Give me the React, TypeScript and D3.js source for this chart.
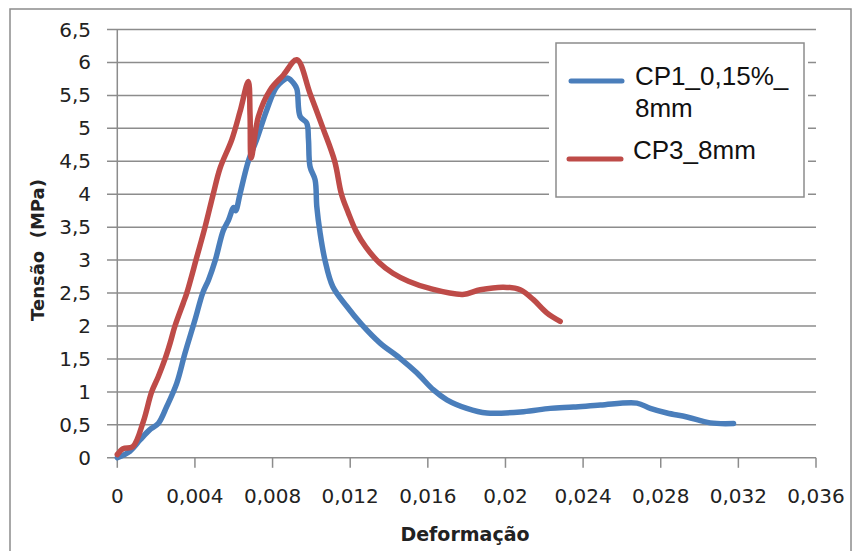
import React from "react";
import * as d3 from "d3";

const cp1Strain = [0, 0.00065, 0.00117, 0.00165, 0.00211, 0.00255, 0.00306, 0.00349, 0.004, 0.0044, 0.0047, 0.00505, 0.00546, 0.00572, 0.006, 0.0061, 0.00632, 0.00675, 0.00718, 0.0077, 0.00821, 0.00873, 0.00881, 0.00907, 0.00925, 0.00942, 0.00976, 0.00985, 0.00993, 0.01019, 0.01028, 0.01045, 0.0107, 0.0111, 0.01182, 0.0126, 0.01354, 0.01457, 0.01543, 0.01629, 0.01698, 0.01801, 0.01904, 0.02093, 0.0223, 0.0235, 0.02489, 0.02677, 0.02746, 0.02832, 0.02935, 0.03055, 0.03175];
const cp1Stress = [0, 0.1, 0.27, 0.42, 0.52, 0.78, 1.13, 1.59, 2.09, 2.5, 2.7, 3.0, 3.45, 3.6, 3.8, 3.75, 4.0, 4.5, 4.83, 5.28, 5.63, 5.76, 5.76, 5.69, 5.6, 5.18, 5.08, 4.83, 4.42, 4.22, 3.81, 3.41, 3.0, 2.6, 2.3, 2.02, 1.74, 1.51, 1.29, 1.03, 0.88, 0.75, 0.68, 0.7, 0.75, 0.77, 0.8, 0.83, 0.75, 0.68, 0.62, 0.53, 0.52];

const cp3Strain = [0, 0.0003, 0.0008, 0.00134, 0.00177, 0.00211, 0.00246, 0.00272, 0.00297, 0.0034, 0.00358, 0.0041, 0.00452, 0.00494, 0.0053, 0.0059, 0.00632, 0.00675, 0.00684, 0.0069, 0.00727, 0.00787, 0.00856, 0.00925, 0.00993, 0.0106, 0.0112, 0.01155, 0.0119, 0.0123, 0.0128, 0.0135, 0.0142, 0.015, 0.0161, 0.0178, 0.0187, 0.0199, 0.02076, 0.02144, 0.02213, 0.02282];
const cp3Stress = [0.05, 0.14, 0.17, 0.55, 1.0, 1.23, 1.5, 1.74, 2.0, 2.35, 2.5, 3.05, 3.5, 4.0, 4.4, 4.83, 5.25, 5.71, 5.2, 4.55, 5.18, 5.58, 5.81, 6.04, 5.53, 5.0, 4.5, 4.0, 3.72, 3.44, 3.2, 2.96, 2.8, 2.68, 2.57, 2.48, 2.55, 2.59, 2.55, 2.4, 2.2, 2.07];

const xTicks = [0, 0.004, 0.008, 0.012, 0.016, 0.02, 0.024, 0.028, 0.032, 0.036];
const xTickLabels = ["0", "0,004", "0,008", "0,012", "0,016", "0,02", "0,024", "0,028", "0,032", "0,036"];
const yTicks = [0, 0.5, 1, 1.5, 2, 2.5, 3, 3.5, 4, 4.5, 5, 5.5, 6, 6.5];
const yTickLabels = ["0", "0,5", "1", "1,5", "2", "2,5", "3", "3,5", "4", "4,5", "5", "5,5", "6", "6,5"];

const seriesNames = ["CP1_0,15%_", "8mm", "CP3_8mm"];
const xTitle = "Deformação";
const yTitle = "Tensão  (MPa)";

const BLUE = "#4A7EBB";
const RED = "#BE4B48";
const GRID = "#8c8c8c";

export default function App() {
  const x = d3.scaleLinear().domain([0, 0.036]).range([117.3, 816]);
  const y = d3.scaleLinear().domain([0, 6.5]).range([457.8, 29.5]);
  const line = d3
    .line<[number, number]>()
    .x((d) => x(d[0]))
    .y((d) => y(d[1]))
    .curve(d3.curveCatmullRom.alpha(0.5));
  const blue = line(cp1Strain.map((s, i) => [s, cp1Stress[i]] as [number, number])) || "";
  const red = line(cp3Strain.map((s, i) => [s, cp3Stress[i]] as [number, number])) || "";

  return (
    <svg width={860} height={551} style={{ position: "absolute", left: 0, top: 0, background: "#fff" }}>
      <rect x={0} y={0} width={860} height={551} fill="#fff" />
      <rect x={10} y={9} width={841} height={560} fill="none" stroke={GRID} strokeWidth={1.5} />
      {yTicks.map((t) => (
        <line key={"g" + t} x1={107} x2={816} y1={y(t)} y2={y(t)} stroke={GRID} strokeWidth={1.5} />
      ))}
      <line x1={x(0)} x2={x(0)} y1={y(6.5)} y2={y(0)} stroke={GRID} strokeWidth={1.5} />
      {xTicks.map((t) => (
        <line key={"xt" + t} x1={x(t)} x2={x(t)} y1={y(0)} y2={y(0) + 10} stroke={GRID} strokeWidth={1.5} />
      ))}
      {yTicks.map((t, i) => (
        <text key={"yl" + t} x={91} y={y(t) + 7} textAnchor="end" fontFamily="DejaVu Sans" fontSize={20} fill="#222">
          {yTickLabels[i]}
        </text>
      ))}
      {xTicks.map((t, i) => (
        <text key={"xl" + t} x={x(t)} y={503} textAnchor="middle" fontFamily="DejaVu Sans" fontSize={20} fill="#222">
          {xTickLabels[i]}
        </text>
      ))}
      <text x={465} y={541} textAnchor="middle" fontFamily="DejaVu Sans" fontWeight="bold" fontSize={19} fill="#222">
        {xTitle}
      </text>
      <text transform="translate(44,250) rotate(-90)" textAnchor="middle" fontFamily="DejaVu Sans" fontWeight="bold" fontSize={18} fill="#222" style={{ whiteSpace: "pre" }}>
        {yTitle}
      </text>
      <path d={blue} fill="none" stroke={BLUE} strokeWidth={5.5} strokeLinejoin="round" strokeLinecap="round" />
      <path d={red} fill="none" stroke={RED} strokeWidth={5.5} strokeLinejoin="round" strokeLinecap="round" />
      <rect x={549} y={35} width={259} height={168} fill="#fff" />
      <rect x={556} y={43} width={248} height={154} fill="#fff" stroke={GRID} strokeWidth={1.5} />
      <line x1={571} x2={622} y1={81} y2={81} stroke={BLUE} strokeWidth={5} strokeLinecap="round" />
      <line x1={569} x2={621} y1={159} y2={159} stroke={RED} strokeWidth={5} strokeLinecap="round" />
      <text x={635} y={85} fontFamily="Liberation Sans" fontSize={26} fill="#111">{seriesNames[0]}</text>
      <text x={635} y={117} fontFamily="Liberation Sans" fontSize={26} fill="#111">{seriesNames[1]}</text>
      <text x={633} y={159} fontFamily="Liberation Sans" fontSize={26} fill="#111">{seriesNames[2]}</text>
    </svg>
  );
}
